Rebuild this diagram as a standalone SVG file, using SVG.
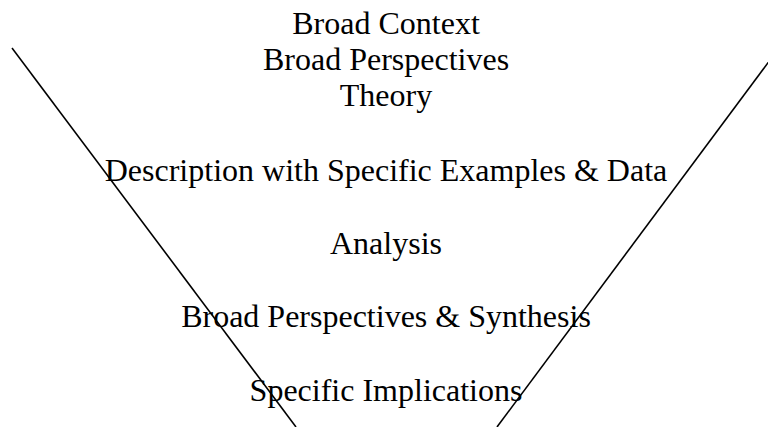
<svg xmlns="http://www.w3.org/2000/svg" width="768" height="427" viewBox="0 0 768 427">
<style>
text{font-family:"Liberation Serif","Times New Roman",serif;font-size:32px;fill:#000;text-anchor:middle}
line{stroke:#000;stroke-width:1.6}
</style>
<rect width="768" height="427" fill="#fff"/>
<g id="connectors">
<line x1="12" y1="48" x2="296" y2="427"/>
<line x1="779" y1="48" x2="497" y2="427"/>
</g>
<g id="top"><text x="386" y="34">Broad Context</text><text x="386" y="70">Broad Perspectives</text><text x="386" y="106">Theory</text></g>
<g id="description"><text x="386" y="181">Description with Specific Examples &amp; Data</text></g>
<g id="analysis"><text x="386" y="254">Analysis</text></g>
<g id="synthesis"><text x="386" y="327">Broad Perspectives &amp; Synthesis</text></g>
<g id="implications"><text x="386" y="401">Specific Implications</text></g>
</svg>
